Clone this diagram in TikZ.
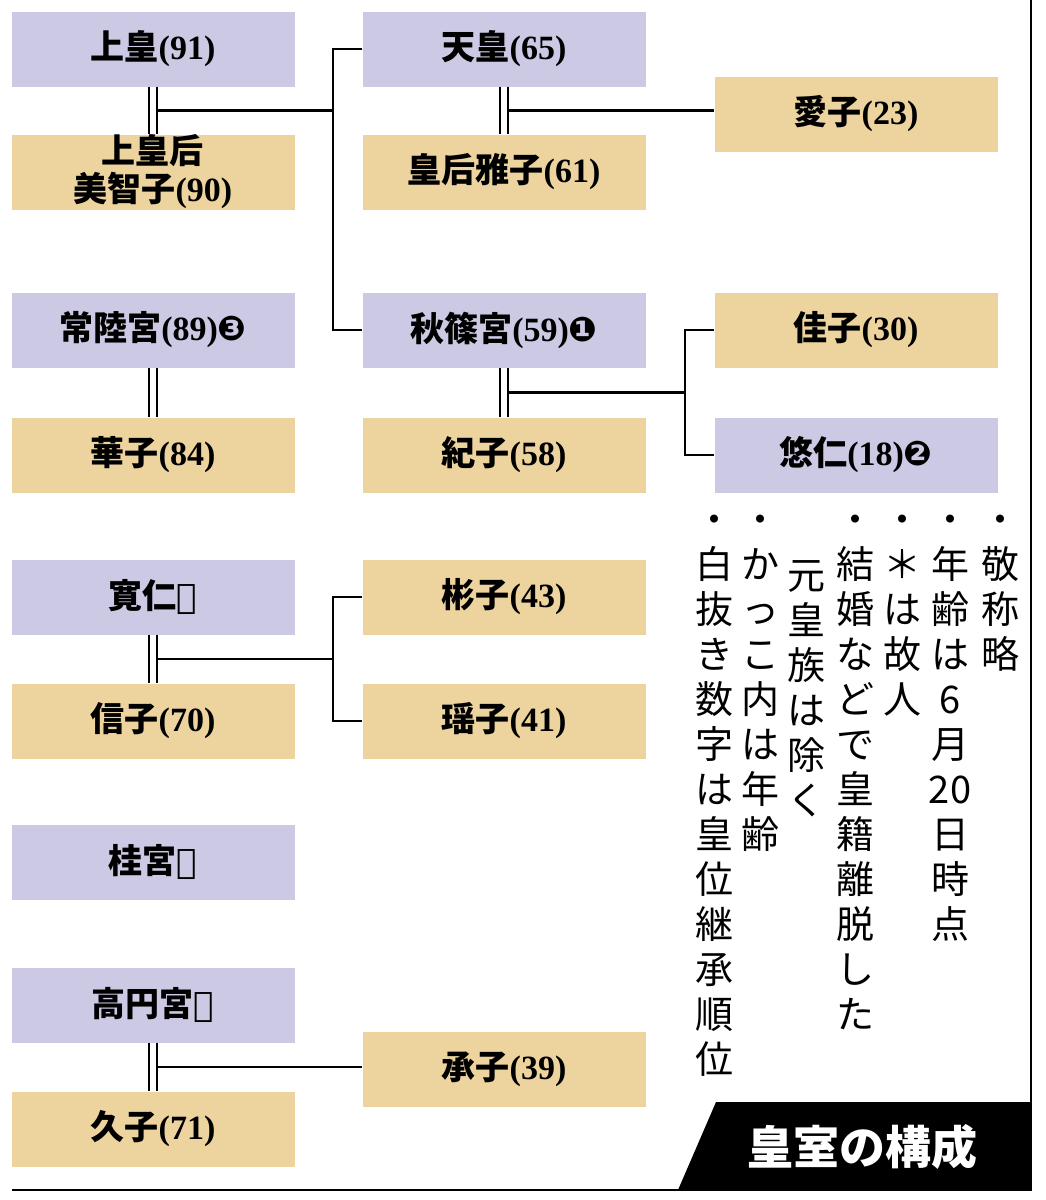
\documentclass[tikz,border=0pt]{standalone}
\usepackage{fontspec}
\setmainfont{Liberation Serif}
\newfontfamily\cjk{Noto Sans CJK JP}
\newfontfamily\djv{DejaVu Sans}
\usetikzlibrary{calc}
\definecolor{lav}{HTML}{CCC9E4}
\definecolor{tan}{HTML}{EDD49F}
\tikzset{
 box/.style={minimum width=283pt,minimum height=75pt,inner sep=0pt,align=center,font=\fontsize{34}{38}\selectfont\bfseries\cjk},
 m/.style={box,fill=lav},
 f/.style={box,fill=tan},
 ln/.style={line width=2.2pt},
 dbl/.style={line width=2.2pt,double,double distance=6pt},
 note/.style={anchor=north,align=center,font=\fontsize{38}{45}\selectfont\cjk,inner sep=0pt}
}
\newcommand\nm[1]{{\bfseries\rmfamily #1}}
\newcommand\cn[1]{{\djv #1}}
\begin{document}
\begin{tikzpicture}[x=1pt,y=-1pt]
\useasboundingbox (0,0) rectangle (1045,1200);
\node[m] (johko) at (153,49) {上皇\nm{(91)}};
\node[f] (johkogo) at (153,172) {上皇后\\美智子\nm{(90)}};
\node[m] (tenno) at (504,49) {天皇\nm{(65)}};
\node[f] (kogo) at (504,172) {皇后雅子\nm{(61)}};
\node[f] (aiko) at (856,114) {愛子\nm{(23)}};
\node[m] (hitachi) at (153,330) {常陸宮\nm{(89)}\cn{❸}};
\node[f] (hanako) at (153,455) {華子\nm{(84)}};
\node[m] (akishino) at (504,330) {秋篠宮\nm{(59)}\cn{❶}};
\node[f] (kiko) at (504,455) {紀子\nm{(58)}};
\node[f] (kako) at (856,330) {佳子\nm{(30)}};
\node[m] (hisahito) at (856,455) {悠仁\nm{(18)}\cn{❷}};
\node[m] (tomohito) at (153,597) {寛仁\cn{＊}};
\node[f] (nobuko) at (153,721) {信子\nm{(70)}};
\node[f] (akiko) at (504,597) {彬子\nm{(43)}};
\node[f] (yoko) at (504,721) {瑶子\nm{(41)}};
\node[m] (katsura) at (153,862) {桂宮\cn{＊}};
\node[m] (takamado) at (153,1005) {高円宮\cn{＊}};
\node[f] (hisako) at (153,1129) {久子\nm{(71)}};
\node[f] (tsuguko) at (504,1069) {承子\nm{(39)}};
% connectors
\draw[dbl] (johko.south) -- (johkogo.north);
\coordinate (j1) at ($(johko.south)!0.5!(johkogo.north)+(5,0)$);
\coordinate (jx) at (333,0);
\draw[ln] (j1) -- (j1-|jx) coordinate (j2);
\draw[ln] (tenno.west) -- (tenno.west-|jx) -- (akishino.west-|jx) -- (akishino.west);
\draw[dbl] (tenno.south) -- (kogo.north);
\coordinate (t1) at ($(tenno.south)!0.5!(kogo.north)+(5,0)$);
\draw[ln] (t1) -- (t1-|aiko.west);
\draw[dbl] (hitachi.south) -- (hanako.north);
\draw[dbl] (akishino.south) -- (kiko.north);
\coordinate (a1) at ($(akishino.south)!0.5!(kiko.north)+(5,0)$);
\coordinate (ax) at (685,0);
\draw[ln] (a1) -- (a1-|ax);
\draw[ln] (kako.west) -- (kako.west-|ax) -- (hisahito.west-|ax) -- (hisahito.west);
\draw[dbl] (tomohito.south) -- (nobuko.north);
\coordinate (h1) at ($(tomohito.south)!0.5!(nobuko.north)+(5,0)$);
\draw[ln] (h1) -- (h1-|jx);
\draw[ln] (akiko.west) -- (akiko.west-|jx) -- (yoko.west-|jx) -- (yoko.west);
\draw[dbl] (takamado.south) -- (hisako.north);
\coordinate (k1) at ($(takamado.south)!0.5!(hisako.north)+(5,0)$);
\draw[ln] (k1) -- (k1-|tsuguko.west);
% frame
\draw[line width=2pt] (1031,0) -- (1031,1190) -- (12,1190);
\fill (678,1190) -- (716,1102) -- (1031,1102) -- (1031,1190) -- cycle;
\node[font=\fontsize{46}{50}\selectfont\bfseries\cjk,text=white] (title) at (862,1147) {皇室の構成};
% notes
\node[note] (n1) at (1000,515) {・\\敬\\称\\略};
\node[note] (n2) at (950,515) {・\\年\\齢\\は\\6\\月\\20\\日\\時\\点};
\node[note] (n3) at (902,515) {・\\＊\\は\\故\\人};
\node[note] (n4) at (855,515) {・\\結\\婚\\な\\ど\\で\\皇\\籍\\離\\脱\\し\\た};
\node[note] (n5) at (806,560) {元\\皇\\族\\は\\除\\く};
\node[note] (n6) at (760,515) {・\\か\\っ\\こ\\内\\は\\年\\齢};
\node[note] (n7) at (714,515) {・\\白\\抜\\き\\数\\字\\は\\皇\\位\\継\\承\\順\\位};
\end{tikzpicture}
\end{document}
